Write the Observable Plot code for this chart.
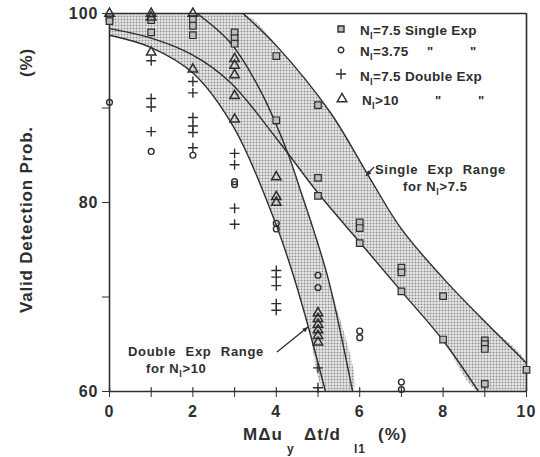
<!DOCTYPE html>
<html><head><meta charset="utf-8">
<script src="https://cdn.jsdelivr.net/npm/d3@7"></script>
<script src="https://cdn.jsdelivr.net/npm/@observablehq/plot@0.6"></script>
<style>body{margin:0;background:#fff} svg{display:block}</style>
</head><body><div id="chart"></div>
<script>
// ---- tick values ----
const xTicks = [0,1,2,3,4,5,6,7,8,9,10];
const yTicks = [60,70,80,90,100];

// ---- measured points [x, valid detection prob %] ----
const singleExp75 = [[0,99.6],[0,99.2],[1,99.3],[1,98.0],[2,99.4],[2,98.7],[2,97.7],[3,98.0],[3,97.4],[3,96.8],
  [4,95.5],[4,88.7],[5,90.3],[5,82.6],[5,80.7],[6,77.9],[6,77.3],[6,75.7],[7,73.1],[7,72.6],[7,70.6],
  [8,70.1],[8,65.5],[9,65.4],[9,65.0],[9,64.5],[9,60.8],[10,62.3]];
const singleExp375 = [[0,90.6],[1,85.4],[2,85.0],[3,82.2],[3,81.9],[4,77.8],[4,77.2],[5,72.3],[5,71.0],
  [6,66.4],[6,65.7],[7,61.0],[7,60.2]];
const doubleExp75 = [[1,95.0],[1,91.0],[1,90.1],[1,87.5],[2,92.8],[2,91.6],[2,89.0],[2,88.1],[2,87.4],[2,85.8],
  [3,85.2],[3,84.0],[3,79.4],[3,77.7],[4,72.8],[4,72.1],[4,71.2],[4,69.3],[4,68.6],[5,62.5],[5,60.4]];
const doubleExp10 = [[0,100],[1,100],[1,99.6],[1,95.9],[2,100],[2,94.1],[3,95.2],[3,94.5],[3,93.5],[3,91.3],[3,88.8],
  [4,82.7],[4,80.6],[4,80.0],[5,68.3],[5,67.7],[5,67.1],[5,66.5],[5,65.9],[5,65.2]];

// ---- range band edges ----
const dblRangeLower = [[0,97.7],[1,96.4],[2,93.7],[3,87.8],[4,77.6],[4.4,72.4],[4.77,66.8],[5.18,60]];
const dblRangeUpper = [[2.1,100],[2.9,96.9],[3.6,92.0],[4.27,85.3],[4.6,81.0],[4.9,77.0],[5.27,71.5],[5.83,60]];
const sglRangeLower = [[0,98.4],[1,97.4],[2,95.6],[2.9,92.7],[4,86.8],[5,81.0],[6,75.8],[7,70.6],[8,65.4],[8.85,60]];
const sglRangeUpper = [[3.2,100],[4,96.6],[5.3,89.5],[6.2,82.9],[7,77.2],[8,72.0],[9,67.4],[10,63.0]];

const ink = "#2e2e2e";
const xDom = [0,10], yDom = [60,100];
// band polygons closed along the frame
const dblPoly = [[xDom[0],yDom[1]], ...dblRangeUpper, ...dblRangeLower.slice().reverse()];
const sglPoly = [[xDom[0],yDom[1]], ...sglRangeUpper, [xDom[1],yDom[0]], ...sglRangeLower.slice().reverse()];

const X = d => d[0], Y = d => d[1];
const chart = Plot.plot({
  width: 540, height: 457,
  marginLeft: 109, marginRight: 14, marginTop: 13, marginBottom: 66,
  style: {fontFamily: "'Liberation Sans', Arial, sans-serif", fontSize: "16px", fontWeight: "bold", letterSpacing: "1px", color: ink, background: "#fff"},
  x: {domain: xDom, ticks: xTicks, tickFormat: d => d % 2 === 0 ? String(d) : "", tickSize: 6, tickPadding: 8, label: null},
  y: {domain: yDom, ticks: yTicks, tickFormat: d => d % 20 === 0 ? String(d) : "", tickSize: 7, tickPadding: 4, label: null},
  marks: [
    Plot.line(dblPoly, {x: X, y: Y, curve: "catmull-rom", fill: "url(#dots)", stroke: "none", clip: true}),
    Plot.line(sglPoly, {x: X, y: Y, curve: "catmull-rom", fill: "url(#dots)", stroke: "none", clip: true}),
    Plot.line(dblRangeLower, {x: X, y: Y, curve: "catmull-rom", stroke: ink, strokeWidth: 1.4, clip: true}),
    Plot.line(dblRangeUpper, {x: X, y: Y, curve: "catmull-rom", stroke: ink, strokeWidth: 1.4, clip: true}),
    Plot.line(sglRangeLower, {x: X, y: Y, curve: "catmull-rom", stroke: ink, strokeWidth: 1.4, clip: true}),
    Plot.line(sglRangeUpper, {x: X, y: Y, curve: "catmull-rom", stroke: ink, strokeWidth: 1.4, clip: true}),
    Plot.ruleX([xDom[0]], {stroke: ink, strokeWidth: 1.6}),
    Plot.ruleX([xDom[1]], {stroke: ink, strokeWidth: 1.6}),
    Plot.ruleY([yDom[0]], {stroke: ink, strokeWidth: 1.6}),
    Plot.ruleY([yDom[1]], {stroke: ink, strokeWidth: 1.6}),
    Plot.ruleX(xTicks, {y1: yDom[0], y2: yDom[0] + 0.4, stroke: ink, strokeWidth: 1.2}),
    Plot.dot(singleExp75, {x: X, y: Y, symbol: "square", r: 3.7, fill: "#bdbdbd", stroke: ink, strokeWidth: 1.2}),
    Plot.dot(singleExp375, {x: X, y: Y, symbol: "circle", r: 2.9, fill: "none", stroke: ink, strokeWidth: 1.4}),
    Plot.dot(doubleExp75, {x: X, y: Y, symbol: "plus", r: 3.3, fill: "none", stroke: ink, strokeWidth: 1.4}),
    Plot.dot(doubleExp10, {x: X, y: Y, symbol: "triangle", r: 3.5, fill: "none", stroke: ink, strokeWidth: 1.5})
  ]
});
document.getElementById("chart").append(chart);

// ---- stipple pattern used by the bands ----
const svg = d3.select(chart);
const pat = svg.insert("defs", ":first-child").append("pattern")
  .attr("id", "dots").attr("width", 3).attr("height", 3).attr("patternUnits", "userSpaceOnUse");
pat.append("rect").attr("width", 3).attr("height", 3).attr("fill", "#fff");
pat.append("rect").attr("width", 2).attr("height", 2).attr("fill", "#8c8c8c");

// ---- texts: axis titles, legend, annotations ----
const g = svg.append("g").attr("font-family", "'Liberation Sans', Arial, sans-serif")
  .attr("font-weight", "bold").attr("fill", ink).attr("text-anchor", "start").attr("letter-spacing", 0);

// y title
const yt = g.append("text").attr("transform", "translate(32,313) rotate(-90)").attr("font-size", 17).attr("letter-spacing", 0.8);
yt.append("tspan").attr("x", 0).text("Valid Detection Prob.");
yt.append("tspan").attr("x", 236).text("(%)");

// x title with subscripts
const xt = g.append("text").attr("font-size", 17).attr("letter-spacing", 1);
xt.append("tspan").attr("x", 243).attr("y", 440).text("MΔu");
xt.append("tspan").attr("x", 287).attr("y", 453).attr("font-size", 12).text("y");
xt.append("tspan").attr("x", 304).attr("y", 440).text("Δt/d");
xt.append("tspan").attr("x", 354).attr("y", 453).attr("font-size", 12).text("l1");
xt.append("tspan").attr("x", 378).attr("y", 440).text("(%)");

function nLabel(sel, x, y, rest, size) {
  const t = sel.append("text").attr("x", x).attr("y", y).attr("font-size", size);
  t.append("tspan").text("N");
  t.append("tspan").attr("dy", 4).attr("font-size", size * 0.7).text("l");
  t.append("tspan").attr("dy", -4).text(rest);
  return t;
}
// legend
const lg = g.append("g");
const sym = (type, x, y, r) => lg.append("path").attr("transform", `translate(${x},${y})`)
  .attr("d", d3.symbol(type, r * r * Math.PI)()).attr("fill", "none").attr("stroke", ink).attr("stroke-width", 1.4);
sym(d3.symbolSquare, 341, 29, 3.4).attr("fill", "#bdbdbd");
sym(d3.symbolCircle, 341, 50, 2.8);
sym(d3.symbolPlus, 341, 74, 3.4);
sym(d3.symbolTriangle, 342, 99, 3.6);
nLabel(lg, 360, 35, "=7.5 Single Exp", 13.5).attr("letter-spacing", 0.3);
nLabel(lg, 360, 56, "=3.75", 13.5).attr("letter-spacing", 0.3);
nLabel(lg, 360, 81, "=7.5 Double Exp", 13.5).attr("letter-spacing", 0.3);
nLabel(lg, 362, 105, ">10", 13.5).attr("letter-spacing", 0.3);
[[427,56],[470,56],[435,105],[478,105]].forEach(([x,y]) => lg.append("text").attr("x", x).attr("y", y).attr("font-size", 13).text("\""));

// annotations
const an = g.append("g");
an.append("text").attr("x", 375).attr("y", 174).attr("font-size", 13).attr("letter-spacing", 0.7).attr("word-spacing", 5).text("Single Exp Range");
nLabel(an, 403, 191, ">7.5", 13).attr("letter-spacing", 0.6).insert("tspan", ":first-child").text("for ");
an.append("text").attr("x", 128).attr("y", 356).attr("font-size", 13).attr("letter-spacing", 0.7).attr("word-spacing", 5).text("Double Exp Range");
nLabel(an, 146, 373, ">10", 13).attr("letter-spacing", 0.6).insert("tspan", ":first-child").text("for ");
function arrow(x1, y1, x2, y2) {
  const a = Math.atan2(y2 - y1, x2 - x1), h = 6;
  an.append("line").attr("x1", x1).attr("y1", y1).attr("x2", x2).attr("y2", y2).attr("stroke", ink).attr("stroke-width", 1.3);
  an.append("path").attr("d", `M${x2},${y2}L${x2 - h*Math.cos(a-0.4)},${y2 - h*Math.sin(a-0.4)}L${x2 - h*Math.cos(a+0.4)},${y2 - h*Math.sin(a+0.4)}Z`).attr("fill", ink);
}
arrow(374, 167, 366, 176);
arrow(277, 352, 308, 327);
</script>
</body></html>
